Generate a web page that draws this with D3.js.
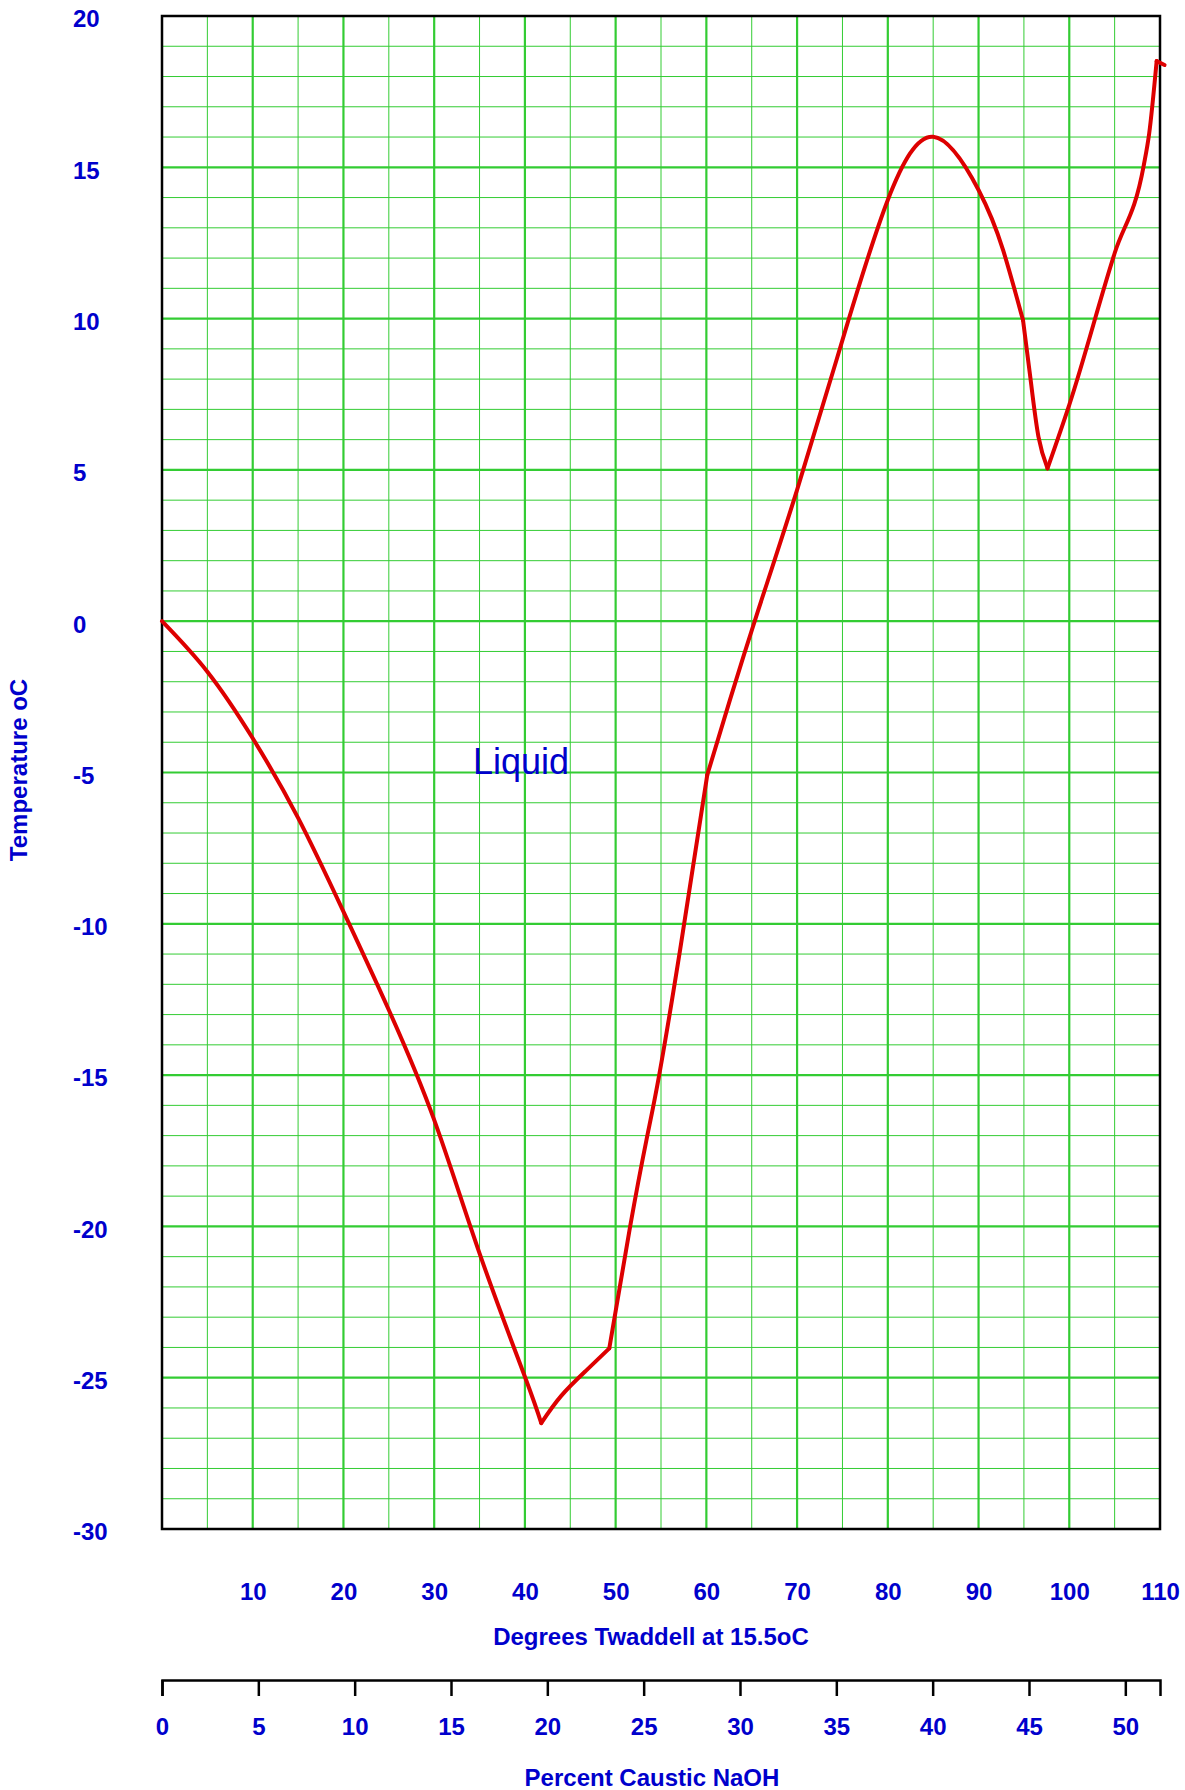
<!DOCTYPE html>
<html>
  <head>
    <meta charset="utf-8">
    <title>Freezing point of caustic soda solutions</title>
    <script src="https://d3js.org/d3.v7.min.js"></script>
    <style type="text/css">
    body { margin: 0; background: #fff; }
    svg text { font-family: "Liberation Sans", Arial, Helvetica, sans-serif; fill: #0000cc; }
    .lbl { font-size: 24px; font-weight: bold; }
    </style>
  </head>
  <body>
  <script type="text/javascript">

    // curve: degrees Twaddell vs temperature oC
    var twaddell = [0, 5, 10, 15, 20, 25, 30, 35, 40, 41.8,
      44, 46.8, 49.3,
      51.6, 53.4, 54.8, 57.1, 60.1,
      62.6, 65.7, 70, 75, 80, 85, 90, 92.7, 94.9,
      95.7, 96.6, 97.6,
      100, 105, 108.2, 108.8, 109.63,
      110.5];
    var temperature = [0, -1.67, -3.87, -6.5, -9.6, -12.85, -16.48, -20.89, -24.97, -26.5,
      -25.6, -24.75, -24.03,
      -20.0, -17.14, -15.0, -10.87, -5.08,
      -2.6, 0.35, 4.34, 9.29, 13.92, 16.01, 14.25, 12.27, 9.95,
      8.08, 6.1, 5.05,
      7.15, 12.16, 15.05, 16.1, 18.51,
      18.38];
    // points where the curve has a corner
    var kinks = [41.8, 49.3, 60.1, 94.9, 97.6, 109.63];

    var twTicks = [10, 20, 30, 40, 50, 60, 70, 80, 90, 100, 110];
    var tempTicks = [-30, -25, -20, -15, -10, -5, 0, 5, 10, 15, 20];
    var pctTicks = [0, 5, 10, 15, 20, 25, 30, 35, 40, 45, 50];
    var pctMax = 51.8;

    var W = 1185, H = 1790;
    var pLeft = 162, pRight = 1160, pTop = 16, pBottom = 1529;

    var x = d3.scaleLinear().domain([0, 110]).range([pLeft, pRight]);
    var y = d3.scaleLinear().domain([-30, 20]).range([pBottom, pTop]);
    var xp = d3.scaleLinear().domain([0, pctMax]).range([pLeft, pRight]);

    var svg = d3.select("body").append("svg")
      .attr("width", W).attr("height", H);

    // grid
    var grid = svg.append("g");
    grid.selectAll(".hl").data(d3.range(-29, 20, 1)).enter().append("line")
      .attr("x1", pLeft).attr("x2", pRight)
      .attr("y1", function(d){ return y(d); }).attr("y2", function(d){ return y(d); })
      .attr("stroke", "#33cc33")
      .attr("stroke-width", function(d){ return d % 5 === 0 ? 2.2 : 1; });
    grid.selectAll(".vl").data(d3.range(5, 110, 5)).enter().append("line")
      .attr("y1", pTop).attr("y2", pBottom)
      .attr("x1", function(d){ return x(d); }).attr("x2", function(d){ return x(d); })
      .attr("stroke", "#33cc33")
      .attr("stroke-width", function(d){ return d % 10 === 0 ? 2.2 : 1; });

    svg.append("rect")
      .attr("x", pLeft).attr("y", pTop)
      .attr("width", pRight - pLeft).attr("height", pBottom - pTop)
      .attr("fill", "none").attr("stroke", "#000").attr("stroke-width", 2.5);

    // curve, drawn piecewise so corners stay sharp
    var pts = twaddell.map(function(t, i){ return [t, temperature[i]]; });
    var groups = [[]];
    pts.forEach(function(p){
      groups[groups.length - 1].push(p);
      if (kinks.indexOf(p[0]) >= 0) groups.push([p]);
    });
    var line = d3.line()
      .x(function(d){ return x(d[0]); })
      .y(function(d){ return y(d[1]); });
    svg.append("g").selectAll("path").data(groups.filter(function(g){ return g.length > 1; }))
      .enter().append("path")
      .attr("d", function(g){
        // the last rising branch bends up sharply, monotone keeps it from wobbling
        line.curve(g[0][0] === 97.6 ? d3.curveMonotoneX : d3.curveNatural);
        return line(g);
      })
      .attr("fill", "none")
      .attr("stroke", "#dd0000")
      .attr("stroke-width", 4)
      .attr("stroke-linejoin", "round")
      .attr("stroke-linecap", "round");

    // y axis labels
    var yAxis = svg.append("g")
      .attr("transform", "translate(" + pLeft + ",0)")
      .call(d3.axisLeft(y).tickValues(tempTicks).tickSize(0).tickFormat(String));
    yAxis.select(".domain").remove();
    yAxis.selectAll("text")
      .attr("class", "lbl")
      .attr("x", 73 - pLeft)
      .attr("dy", "0.45em")
      .style("text-anchor", "start")
      .attr("fill", null);

    // Twaddell labels
    var twAxis = svg.append("g")
      .attr("transform", "translate(0," + pBottom + ")")
      .call(d3.axisBottom(x).tickValues(twTicks).tickSize(0));
    twAxis.select(".domain").remove();
    twAxis.selectAll("text")
      .attr("class", "lbl")
      .attr("y", 71).attr("dy", 0)
      .attr("fill", null);

    // percent NaOH axis
    var pAxis = svg.append("g")
      .attr("transform", "translate(0,1680)")
      .call(d3.axisBottom(xp).tickValues(pctTicks).tickSize(16).tickSizeOuter(16));
    pAxis.selectAll("path, line").attr("stroke", "#000").attr("stroke-width", 2.5);
    pAxis.selectAll("text")
      .attr("class", "lbl")
      .attr("y", 55).attr("dy", 0)
      .attr("fill", null);

    // titles
    svg.append("text").attr("class", "lbl")
      .attr("x", 651).attr("y", 1645)
      .attr("text-anchor", "middle")
      .text("Degrees Twaddell at 15.5oC");
    svg.append("text").attr("class", "lbl")
      .attr("x", 652).attr("y", 1786)
      .attr("text-anchor", "middle")
      .text("Percent Caustic NaOH");
    svg.append("text").attr("class", "lbl")
      .attr("transform", "translate(27,770) rotate(-90)")
      .attr("text-anchor", "middle")
      .text("Temperature oC");

    svg.append("text")
      .attr("x", 473).attr("y", 774)
      .style("font-size", "36px")
      .text("Liquid");

  </script>
  </body>
</html>
